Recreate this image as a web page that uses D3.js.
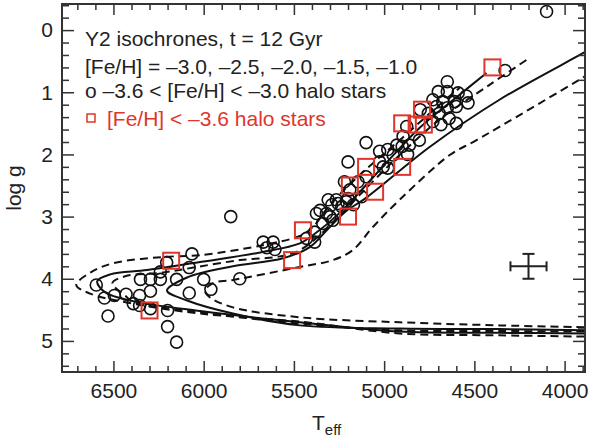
<!DOCTYPE html>
<html>
<head>
<meta charset="utf-8">
<script src="https://cdn.jsdelivr.net/npm/d3@7"></script>
<style>
  body { margin: 0; background: #fff; }
  svg text { font-family: "Liberation Sans", Arial, Helvetica, sans-serif; fill: #222; }
</style>
</head>
<body>
<svg id="chart" width="590" height="438"></svg>
<script>
// Axis ticks
const xMajorTicks = [6500, 6000, 5500, 5000, 4500, 4000];
const yMajorTicks = [0, 1, 2, 3, 4, 5];

// Y2 isochrones, 12 Gyr, [Teff, log g]
const iso30 = [[3891,4.93],[4361,4.91],[4914,4.88],[5467,4.69],[6020,4.56],[6391,4.40],[6628,4.24],[6706,4.10],
  [6628,3.90],[6501,3.75],[6225,3.65],[6020,3.62],[5672,3.46],[5467,3.31],[5395,3.17],[5301,2.81],[5135,2.33],
  [4914,1.77],[4693,1.20],[4582,0.93]];
const iso25 = [[3891,4.88],[4361,4.87],[4914,4.85],[5467,4.70],[6020,4.52],[6391,4.36],[6545,4.22],[6590,4.04],
  [6518,3.93],[6313,3.86],[6020,3.73],[5672,3.57],[5467,3.43],[5395,3.30],[5246,2.94],[5024,2.25],[4803,1.57],
  [4582,1.04],[4433,0.69]];
const iso20 = [[3891,4.85],[4361,4.84],[4914,4.83],[5467,4.72],[6020,4.54],[6391,4.37],[6435,4.27],[6506,4.07],
  [6435,3.96],[6225,3.90],[6037,3.81],[5799,3.70],[5578,3.64],[5467,3.54],[5301,3.15],[5135,2.65],[4914,2.01],
  [4693,1.44],[4416,0.88],[4211,0.48]];
const iso15 = [[3891,4.83],[4361,4.81],[4914,4.80],[5467,4.75],[5838,4.56],[6092,4.35],[6203,4.19],[6092,3.98],
  [5838,3.80],[5561,3.67],[5412,3.49],[5318,3.22],[5218,2.93],[5096,2.69],[4748,1.88],[4361,1.12],[3891,0.36],[3808,0.22]];
const iso10 = [[3891,4.78],[4361,4.75],[4914,4.70],[5467,4.62],[5838,4.46],[5965,4.30],[5992,4.19],[5948,4.07],
  [5838,4.02],[5467,3.81],[5284,3.70],[5174,3.54],[5063,3.17],[4914,2.73],[4637,2.01],[4488,1.77],[3891,0.75],[3808,0.60]];
const isochrones = [
  { feh: -3.0, pts: iso30, dashed: true },
  { feh: -2.5, pts: iso25, dashed: false },
  { feh: -2.0, pts: iso20, dashed: true },
  { feh: -1.5, pts: iso15, dashed: false },
  { feh: -1.0, pts: iso10, dashed: true }
];

// -3.6 < [Fe/H] < -3.0 halo stars
const haloStars = [
  [4100,-0.30],[4330,0.65],[4650,0.83],[4700,0.99],[4650,0.99],[4590,1.01],[4545,1.06],
  [4730,1.12],[4675,1.15],[4610,1.15],[4535,1.17],[4710,1.23],[4650,1.25],[4600,1.23],
  [4800,1.28],[4755,1.34],[4695,1.34],[4640,1.42],[4600,1.50],[4730,1.47],[4685,1.52],
  [4875,1.55],[4895,1.71],[4805,1.77],[4860,1.85],[5100,1.81],[5025,1.95],[4980,1.92],
  [4930,1.85],[4950,2.01],[4900,1.87],[4870,2.00],[5200,2.12],[5025,2.12],[4980,2.22],
  [5005,2.20],[5100,2.36],[5145,2.44],[5220,2.44],[5265,2.73],[5310,2.73],[5200,2.71],
  [5170,2.81],[5355,2.90],[5300,3.00],[5235,2.84],[5125,2.68],[5190,2.57],[5375,2.95],
  [5320,2.95],[5290,2.81],[5255,2.79],[5210,2.76],[5340,3.11],[5285,3.06],[5385,3.25],
  [5430,3.35],[5385,3.41],[5850,3.00],[5670,3.41],[5615,3.41],[5650,3.50],[5605,3.53],
  [6065,3.60],[6080,3.82],[6205,3.74],[6240,3.89],[6595,4.10],[6350,4.01],[6295,4.01],
  [6240,4.01],[6150,4.01],[6000,4.01],[5800,4.00],[5960,4.17],[6080,4.23],[6550,4.31],
  [6495,4.27],[6430,4.25],[6355,4.27],[6295,4.20],[6390,4.40],[6355,4.43],[6295,4.48],
  [6200,4.51],[6530,4.60],[6200,4.77],[6150,5.02]
];

// [Fe/H] < -3.6 halo stars
const ultraPoorStars = [
  [4400,0.60],[4790,1.28],[4900,1.50],[4820,1.52],[4780,1.52],[5100,2.20],[4900,2.20],
  [5190,2.50],[5050,2.60],[5200,3.00],[5450,3.22],[5510,3.70],[6180,3.71],[6300,4.51]
];

// Typical error bar: [Teff, log g, dTeff, dlogg]
const errorBar = [4200, 3.8, 100, 0.2];

const legendLines = [
  "Y2 isochrones, t = 12 Gyr",
  "[Fe/H] = –3.0, –2.5, –2.0, –1.5, –1.0",
  "o –3.6 < [Fe/H] < –3.0 halo stars",
  "[Fe/H] < –3.6 halo stars"
];

const red = "#e0352b";
const plotLeft = 62, plotRight = 585, plotTop = 4, plotBottom = 372;

const svg = d3.select("#chart");

const x = d3.scaleLinear().domain([6785, 3887]).range([plotLeft, plotRight]);
const y = d3.scaleLinear().domain([-0.42, 5.5]).range([plotTop, plotBottom]);

svg.append("defs").append("clipPath").attr("id", "plot-clip")
  .append("rect").attr("x", plotLeft).attr("y", plotTop)
  .attr("width", plotRight - plotLeft).attr("height", plotBottom - plotTop);

// isochrone curves
const line = d3.line()
  .x(d => x(d[0]))
  .y(d => y(d[1]))
  .curve(d3.curveCatmullRom.alpha(0.5));

svg.append("g").attr("clip-path", "url(#plot-clip)")
  .selectAll("path")
  .data(isochrones)
  .enter().append("path")
  .attr("d", d => line(d.pts))
  .attr("fill", "none")
  .attr("stroke", "#111")
  .attr("stroke-width", 2)
  .attr("stroke-dasharray", d => d.dashed ? "8,5" : null);

// halo star circles
svg.append("g").attr("clip-path", "url(#plot-clip)")
  .selectAll("circle")
  .data(haloStars)
  .enter().append("circle")
  .attr("cx", d => x(d[0]))
  .attr("cy", d => y(d[1]))
  .attr("r", 6)
  .attr("fill", "none")
  .attr("stroke", "#111")
  .attr("stroke-width", 1.6);

// ultra metal-poor squares
const sq = 16;
svg.append("g")
  .selectAll("rect")
  .data(ultraPoorStars)
  .enter().append("rect")
  .attr("x", d => x(d[0]) - sq / 2)
  .attr("y", d => y(d[1]) - sq / 2)
  .attr("width", sq)
  .attr("height", sq)
  .attr("fill", "none")
  .attr("stroke", red)
  .attr("stroke-width", 2);

// error bar
const [eT, eG, dT, dG] = errorBar;
const eb = svg.append("g").attr("stroke", "#222").attr("stroke-width", 2);
eb.append("line").attr("x1", x(eT + dT)).attr("x2", x(eT - dT)).attr("y1", y(eG)).attr("y2", y(eG));
eb.append("line").attr("x1", x(eT)).attr("x2", x(eT)).attr("y1", y(eG - dG)).attr("y2", y(eG + dG));
[eT + dT, eT - dT].forEach(t => {
  eb.append("line").attr("x1", x(t)).attr("x2", x(t)).attr("y1", y(eG) - 5).attr("y2", y(eG) + 5);
});
[eG - dG, eG + dG].forEach(g => {
  eb.append("line").attr("x1", x(eT) - 6).attr("x2", x(eT) + 6).attr("y1", y(g)).attr("y2", y(g));
});

// axes: ticks point inward on all four sides
const xMinor = d3.range(3900, 6800, 100).filter(v => v % 500 !== 0);
const yMinor = d3.range(-0.4, 5.5, 0.2).map(v => +v.toFixed(1)).filter(v => Math.abs(v - Math.round(v)) > 0.01);

function styleAxis(g) {
  g.select(".domain").remove();
  g.selectAll(".tick line").attr("stroke", "#333").attr("stroke-width", 1.5);
  g.selectAll(".tick text").attr("font-size", 21).attr("fill", "#222");
}

svg.append("g").attr("transform", `translate(0,${plotBottom})`)
  .call(d3.axisBottom(x).tickValues(xMajorTicks).tickSizeInner(-11).tickSizeOuter(0).tickPadding(11).tickFormat(d3.format("d")))
  .call(styleAxis);
svg.append("g").attr("transform", `translate(0,${plotBottom})`)
  .call(d3.axisBottom(x).tickValues(xMinor).tickSizeInner(-6).tickSizeOuter(0).tickFormat(""))
  .call(styleAxis);
svg.append("g").attr("transform", `translate(0,${plotTop})`)
  .call(d3.axisTop(x).tickValues(xMajorTicks).tickSizeInner(-11).tickSizeOuter(0).tickFormat(""))
  .call(styleAxis);
svg.append("g").attr("transform", `translate(0,${plotTop})`)
  .call(d3.axisTop(x).tickValues(xMinor).tickSizeInner(-6).tickSizeOuter(0).tickFormat(""))
  .call(styleAxis);

svg.append("g").attr("transform", `translate(${plotLeft},0)`)
  .call(d3.axisLeft(y).tickValues(yMajorTicks).tickSizeInner(-12).tickSizeOuter(0).tickPadding(9).tickFormat(d3.format("d")))
  .call(styleAxis);
svg.append("g").attr("transform", `translate(${plotLeft},0)`)
  .call(d3.axisLeft(y).tickValues(yMinor).tickSizeInner(-7).tickSizeOuter(0).tickFormat(""))
  .call(styleAxis);
svg.append("g").attr("transform", `translate(${plotRight},0)`)
  .call(d3.axisRight(y).tickValues(yMajorTicks).tickSizeInner(-12).tickSizeOuter(0).tickFormat(""))
  .call(styleAxis);
svg.append("g").attr("transform", `translate(${plotRight},0)`)
  .call(d3.axisRight(y).tickValues(yMinor).tickSizeInner(-7).tickSizeOuter(0).tickFormat(""))
  .call(styleAxis);

// frame
svg.append("rect")
  .attr("x", plotLeft).attr("y", plotTop)
  .attr("width", plotRight - plotLeft).attr("height", plotBottom - plotTop)
  .attr("fill", "none").attr("stroke", "#333").attr("stroke-width", 2);

// axis titles
svg.append("text")
  .attr("transform", `translate(21,${(plotTop + plotBottom) / 2}) rotate(-90)`)
  .attr("text-anchor", "middle")
  .attr("font-size", 21)
  .text("log g");

const xt = svg.append("text")
  .attr("x", 312).attr("y", 430)
  .attr("font-size", 21);
xt.append("tspan").text("T");
xt.append("tspan").attr("font-size", 15).attr("dy", 5).text("eff");

// legend
const legendY = [46, 74, 98, 126];
legendLines.forEach((t, i) => {
  svg.append("text")
    .attr("x", i === 3 ? 107 : 85)
    .attr("y", legendY[i])
    .attr("font-size", 21)
    .style("fill", i === 3 ? red : "#222")
    .text(t);
});
svg.append("rect")
  .attr("x", 87).attr("y", 114).attr("width", 8).attr("height", 8)
  .attr("fill", "none").attr("stroke", red).attr("stroke-width", 1.5);
</script>
</body>
</html>
